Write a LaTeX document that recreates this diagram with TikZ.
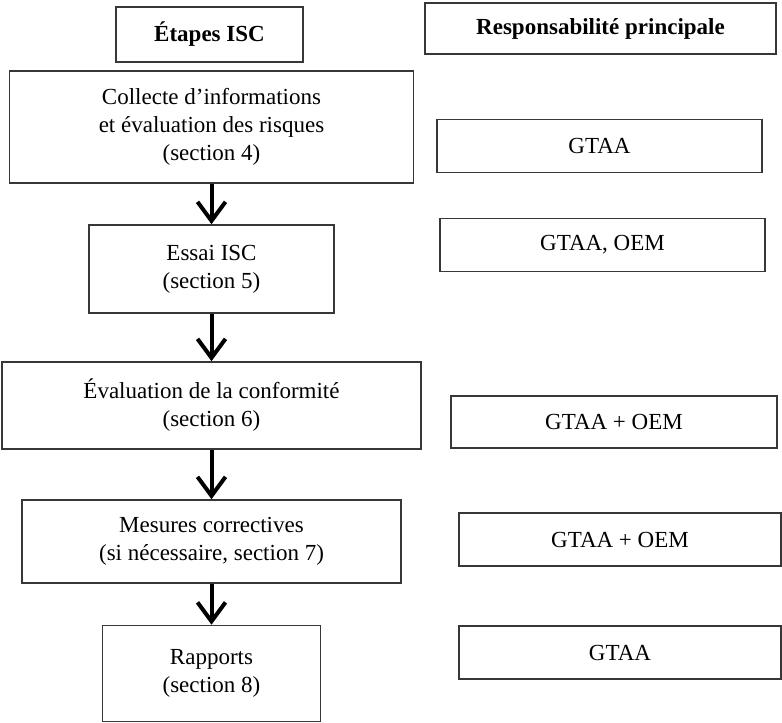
\documentclass[tikz,border=0pt]{standalone}
\usepackage{fontspec}
\setmainfont{Liberation Serif}
\usetikzlibrary{arrows.meta,positioning}
\definecolor{framegray}{RGB}{55,55,55}
\tikzset{stepbox/.style={draw=framegray, line width=1.6pt, align=center, inner sep=2pt}, respbox/.style={draw=framegray, line width=1.6pt, align=center, inner sep=2pt, minimum height=53pt}, headbox/.style={draw=framegray, line width=1.6pt, align=center, inner sep=2pt, font=\fontsize{23}{28}\selectfont\bfseries}, flow/.style={-{Straight Barb[length=19pt,width=28pt]}, line width=4pt}}

\begin{document}
\begin{tikzpicture}[x=1pt,y=-1pt,font=\fontsize{23}{28}\selectfont]
\useasboundingbox (0,0) rectangle (782,723);
% headers
\node[headbox,minimum width=187pt,minimum height=55pt] (hstep) at (209.5,34.5) {Étapes ISC};
\node[headbox,minimum width=351pt,minimum height=51pt] (hresp) at (600.5,28.5) {Responsabilité principale};
% steps
\node[stepbox,minimum width=404pt,minimum height=112pt] (collect) at (211.5,127) {Collecte d’informations\\et évaluation des risques\\(section 4)};
\node[stepbox,minimum width=245pt,minimum height=88pt] (essai) at (211.5,269) {Essai ISC\\(section 5)};
\node[stepbox,minimum width=419pt,minimum height=87pt] (conform) at (211.5,405.5) {Évaluation de la conformité\\(section 6)};
\node[stepbox,minimum width=379pt,minimum height=83pt] (mesures) at (211.5,541.5) {Mesures correctives\\(si nécessaire, section 7)};
\node[stepbox,minimum width=218pt,minimum height=96pt] (rapports) at (211.5,673.5) {Rapports\\(section 8)};
% responsibilities
\node[respbox,minimum width=325pt] (rcollect) at (599.5,146) {GTAA};
\node[respbox,minimum width=325pt] (ressai) at (602.5,245) {GTAA, OEM};
\node[respbox,minimum width=326pt,minimum height=52pt] (rconform) at (614,422) {GTAA + OEM};
\node[respbox,minimum width=322pt] (rmesures) at (620,539.5) {GTAA + OEM};
\node[respbox,minimum width=322pt] (rrapports) at (620,652.5) {GTAA};
\draw[flow] (collect)--(essai); \draw[flow] (essai)--(conform); \draw[flow] (conform)--(mesures); \draw[flow] (mesures)--(rapports);
\end{tikzpicture}
\end{document}
